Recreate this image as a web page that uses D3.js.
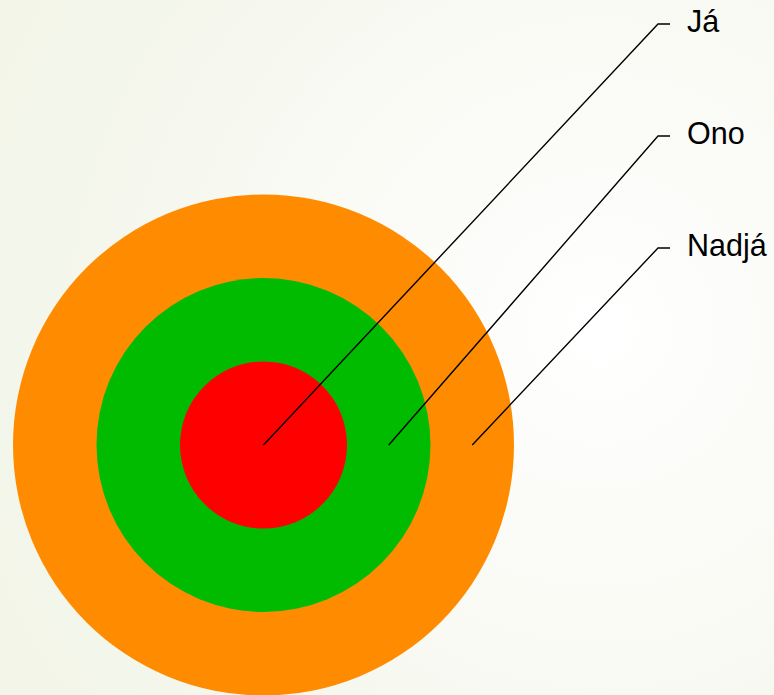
<!DOCTYPE html>
<html>
<head>
<meta charset="utf-8">
<script src="https://cdn.jsdelivr.net/npm/d3@7"></script>
<style>
html,body{margin:0;padding:0;overflow:hidden;}
svg{display:block;}
</style>
</head>
<body>
<svg id="chart" width="774" height="695"></svg>
<script>
const categories = ["Já", "Ono", "Nadjá"];
const values = [1, 1, 1];
const colors = ["#ff0000", "#00bb00", "#ff8c00"];

const W = 774, H = 695;
const cx = 263.5, cy = 445;
const svg = d3.select("#chart");

const defs = svg.append("defs");
const grad = defs.append("radialGradient").attr("id", "bg")
  .attr("gradientUnits", "userSpaceOnUse")
  .attr("cx", 600).attr("cy", 330).attr("r", 650);
grad.append("stop").attr("offset", "0%").attr("stop-color", "#ffffff");
grad.append("stop").attr("offset", "100%").attr("stop-color", "#f2f5e8");
svg.append("rect").attr("width", W).attr("height", H).attr("fill", "url(#bg)");

let acc = 0;
const rings = categories.map((c, i) => {
  const inner = acc; acc += values[i];
  return {cat: c, inner, outer: acc, color: colors[i]};
});
const r = d3.scaleLinear().domain([0, acc]).range([0, 250.5]);

const g = svg.append("g").attr("transform", `translate(${cx},${cy})`);
g.selectAll("circle").data(rings.slice().reverse()).join("circle")
  .attr("r", d => r(d.outer)).attr("fill", d => d.color);

const ly = d3.scalePoint().domain(categories).range([24, 248]);
const cornerX = 658, endX = 670, textX = 687;
rings.forEach((d, i) => {
  const sx = cx + r((d.inner + d.outer) / 2) * (i === 0 ? 0 : 1);
  const y = ly(d.cat);
  svg.append("polyline")
    .attr("points", `${sx},${cy} ${cornerX},${y} ${endX},${y}`)
    .attr("fill", "none").attr("stroke", "#000").attr("stroke-width", 1.4);
  svg.append("text").attr("x", textX).attr("y", y + 8)
    .attr("font-family", "Liberation Sans, Arial, sans-serif")
    .attr("font-size", 30.5).attr("fill", "#000").text(d.cat);
});
</script>
</body>
</html>
